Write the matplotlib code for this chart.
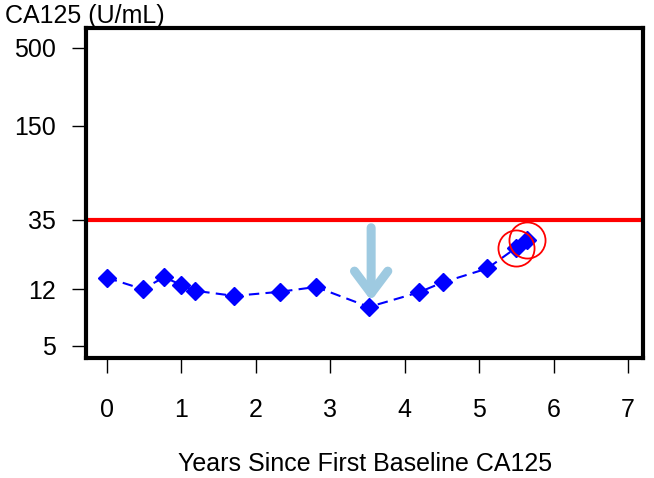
import matplotlib
matplotlib.use("Agg")
import matplotlib.pyplot as plt
from matplotlib.ticker import FixedLocator, NullLocator

plt.rcParams['font.family'] = ['Liberation Sans', 'DejaVu Sans']

# CA125 series
years = [0.0, 0.48, 0.77, 1.0, 1.18, 1.71, 2.32, 2.81, 3.52, 4.19, 4.51, 5.11, 5.49, 5.65]
ca125 = [14.3, 12.0, 14.4, 12.8, 11.7, 10.8, 11.5, 12.4, 9.1, 11.4, 13.3, 16.5, 22.6, 25.7]

# flagged (circled) points
flag_years = [5.49, 5.65]
flag_vals = [22.6, 25.7]

threshold = 35
arrow_x = 3.55
arrow_from = 31.0
arrow_to = 10.0

xticks = [0, 1, 2, 3, 4, 5, 6, 7]
yticks = [5, 12, 35, 150, 500]

fs = 18

fig = plt.figure(figsize=(6.54, 4.78), dpi=100)
ax = fig.add_axes([0.1315, 0.251, 0.8515, 0.6904])

ax.set_yscale('log')
ax.set_xlim(-0.28, 7.2)
ax.set_ylim(4.13, 681)

ax.axhline(threshold, color='#ff0000', lw=3, zorder=2)

ax.plot(years, ca125, color='#0000ff', lw=1.5, ls=(0, (5, 3)),
        marker='D', ms=9, mfc='#0000ff', mec='#0000ff', zorder=3)
ax.plot(flag_years, flag_vals, ls='none', marker='o', ms=26,
        mfc='none', mec='#ff0000', mew=1.3, zorder=4)

ax.annotate('', xy=(arrow_x, arrow_to), xytext=(arrow_x, arrow_from),
            arrowprops=dict(arrowstyle='->,head_length=0.8,head_width=0.6',
                            color='#9ecae1', lw=6.5, capstyle='round',
                            joinstyle='round', shrinkA=0, shrinkB=0,
                            mutation_scale=20),
            zorder=5)

for s in ax.spines.values():
    s.set_linewidth(3)

ax.yaxis.set_major_locator(FixedLocator(yticks))
ax.yaxis.set_minor_locator(NullLocator())
ax.set_yticklabels([str(v) for v in yticks])
ax.set_xticks(xticks)
ax.tick_params(axis='both', labelsize=fs, width=1, color='black')
ax.tick_params(axis='y', length=10, pad=12)
ax.tick_params(axis='x', length=11, pad=18)

fig.text(0.008, 0.966, 'CA125 (U/mL)', fontsize=fs, ha='left', va='center')
fig.text(0.558, 0.03, 'Years Since First Baseline CA125', fontsize=fs,
         ha='center', va='center')

fig.savefig('out.png', dpi=100)
